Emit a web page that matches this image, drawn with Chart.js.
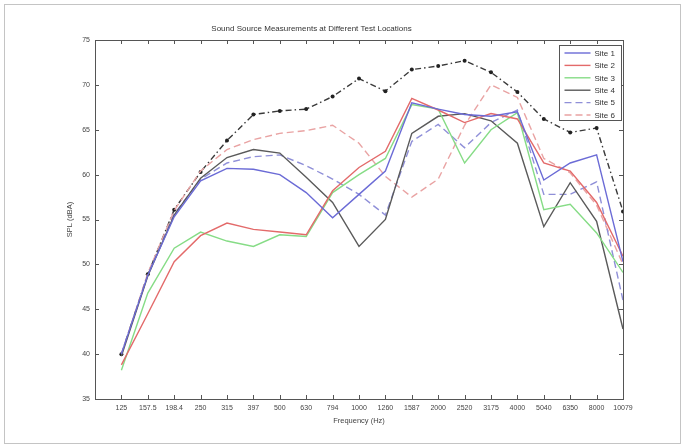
<!DOCTYPE html>
<html lang="en">

<head>
    <meta charset="UTF-8">
    <title>Sound Source Measurements</title>
    <script src="https://cdn.jsdelivr.net/npm/chart.js"></script>
    <style>
        body { margin: 0; background: #ffffff; }
        #grafico { display: block; }
    </style>
</head>

<body>
    <canvas id="grafico" width="685" height="448"></canvas>
</body>
</html>
<script>
  // frequency bands (Hz)
  var freqLabels = ['125', '157.5', '198.4', '250', '315', '397', '500', '630', '794', '1000',
                    '1260', '1587', '2000', '2520', '3175', '4000', '5040', '6350', '8000', '10079']

  var yTicks = [35, 40, 45, 50, 55, 60, 65, 70, 75]

  // SPL (dBA) per site
  var site1 = [40.0, 48.8, 55.3, 59.3, 60.7, 60.6, 60.0, 58.0, 55.2, 57.8, 60.4, 68.0, 67.3, 66.7, 66.5, 67.0, 59.4, 61.3, 62.2, 50.3]
  var site2 = [38.8, 44.5, 50.3, 53.2, 54.6, 53.9, 53.6, 53.3, 58.2, 60.8, 62.6, 68.5, 67.2, 65.8, 66.8, 66.2, 61.3, 60.4, 56.9, 50.9]
  var site3 = [38.2, 46.8, 51.8, 53.6, 52.6, 52.0, 53.3, 53.1, 58.0, 60.0, 61.8, 67.8, 67.3, 61.3, 65.0, 66.9, 56.1, 56.7, 53.5, 49.1]
  var site4 = [39.8, 48.7, 55.5, 59.6, 61.9, 62.8, 62.4, 59.7, 56.9, 52.0, 55.0, 64.6, 66.5, 66.8, 66.0, 63.5, 54.2, 59.1, 54.8, 42.8]
  var site5 = [40.0, 48.8, 55.6, 59.5, 61.3, 62.0, 62.2, 61.0, 59.5, 57.8, 55.5, 63.7, 65.6, 63.0, 65.8, 67.2, 57.8, 57.8, 59.2, 46.0]
  var site6 = [40.0, 49.0, 56.0, 60.4, 62.8, 63.9, 64.6, 64.9, 65.5, 63.5, 59.8, 57.5, 59.5, 65.5, 70.0, 68.6, 61.8, 60.2, 56.6, 50.0]
  // upper curve with markers (not in the legend)
  var maxLevel = [40.0, 48.9, 56.1, 60.3, 63.8, 66.7, 67.1, 67.3, 68.7, 70.7, 69.3, 71.7, 72.1, 72.7, 71.4, 69.2, 66.2, 64.7, 65.2, 55.9]

  function pontos(lista) {
    var saida = []
    for (var i = 0; i < lista.length; i += 1) {
      saida.push({ x: i + 1, y: lista[i] })
    }
    return saida
  }

  function serie(label, lista, cor, dash, legenda) {
    return {
      label: label,
      data: pontos(lista),
      borderColor: cor,
      backgroundColor: cor,
      borderWidth: 1.4,
      borderDash: dash,
      pointRadius: 0,
      tension: 0,
      showInLegend: legenda
    }
  }

  var datasets = [
    serie('Site 1', site1, '#6b6bd6', [], true),
    serie('Site 2', site2, '#e36a6a', [], true),
    serie('Site 3', site3, '#86dc86', [], true),
    serie('Site 4', site4, '#5a5a5a', [], true),
    serie('Site 5', site5, '#8f8fd8', [7, 4], true),
    serie('Site 6', site6, '#e9a3a3', [7, 4], true)
  ]

  var linhaMax = serie('Max', maxLevel, '#3a3a3a', [6, 3, 1.5, 3], false)
  linhaMax.pointRadius = 2
  linhaMax.pointBackgroundColor = '#222222'
  linhaMax.pointBorderWidth = 0
  datasets.push(linhaMax)

  // box, inward ticks and outer frame like the original figure
  var moldura = {
    id: 'moldura',
    beforeDraw: function (chart) {
      var ctx = chart.ctx
      ctx.save()
      ctx.fillStyle = '#ffffff'
      ctx.fillRect(0, 0, chart.width, chart.height)
      ctx.strokeStyle = '#c4c4c4'
      ctx.lineWidth = 1
      ctx.strokeRect(4.5, 4.5, chart.width - 9, chart.height - 9)
      ctx.restore()
    },
    afterDatasetsDraw: function (chart) {
      var ctx = chart.ctx
      var area = chart.chartArea
      var sx = chart.scales.x
      var sy = chart.scales.y
      ctx.save()
      ctx.strokeStyle = '#555555'
      ctx.lineWidth = 1
      ctx.strokeRect(Math.round(area.left) + 0.5, Math.round(area.top) + 0.5,
                     Math.round(area.right - area.left), Math.round(area.bottom - area.top))
      ctx.beginPath()
      for (var i = 1; i <= freqLabels.length; i += 1) {
        var px = Math.round(sx.getPixelForValue(i)) + 0.5
        ctx.moveTo(px, area.bottom)
        ctx.lineTo(px, area.bottom - 4)
        ctx.moveTo(px, area.top)
        ctx.lineTo(px, area.top + 4)
      }
      for (var j = 0; j < yTicks.length; j += 1) {
        var py = Math.round(sy.getPixelForValue(yTicks[j])) + 0.5
        ctx.moveTo(area.left, py)
        ctx.lineTo(area.left + 4, py)
        ctx.moveTo(area.right, py)
        ctx.lineTo(area.right - 4, py)
      }
      ctx.stroke()

      // legend box in the top right corner
      var itens = chart.data.datasets.filter(function (d) { return d.showInLegend })
      var caixaL = Math.round(area.right) - 63.5
      var caixaT = Math.round(area.top) + 5.5
      var caixaW = 62
      var caixaH = 75
      ctx.fillStyle = '#ffffff'
      ctx.fillRect(caixaL, caixaT, caixaW, caixaH)
      ctx.strokeStyle = '#555555'
      ctx.strokeRect(caixaL, caixaT, caixaW, caixaH)
      ctx.font = '8px "Liberation Sans", Arial, sans-serif'
      ctx.textBaseline = 'middle'
      ctx.textAlign = 'left'
      for (var k = 0; k < itens.length; k += 1) {
        var ly = caixaT + 7.5 + k * 12.4
        ctx.beginPath()
        ctx.setLineDash(itens[k].borderDash)
        ctx.strokeStyle = itens[k].borderColor
        ctx.lineWidth = 1.4
        ctx.moveTo(caixaL + 5, ly)
        ctx.lineTo(caixaL + 31, ly)
        ctx.stroke()
        ctx.setLineDash([])
        ctx.fillStyle = '#333333'
        ctx.fillText(itens[k].label, caixaL + 35, ly + 0.5)
      }
      ctx.restore()
    }
  }

  var tela = document.getElementById('grafico')

  new Chart(tela, {
    type: 'line',
    data: { datasets: datasets },
    plugins: [moldura],
    options: {
      responsive: false,
      animation: false,
      layout: { padding: { left: 0, right: 62, top: 0, bottom: 0 } },
      font: { family: '"Liberation Sans", Arial, sans-serif' },
      scales: {
        x: {
          type: 'linear',
          min: 0,
          max: 20,
          grid: { display: false, drawTicks: false },
          border: { display: false },
          afterFit: function (scale) { scale.height = 49 },
          afterBuildTicks: function (scale) {
            scale.ticks = scale.ticks.filter(function (t) { return t.value >= 1 && t.value <= 20 })
          },
          ticks: {
            stepSize: 1,
            autoSkip: false,
            maxRotation: 0,
            padding: 5,
            color: '#444444',
            font: { size: 7 },
            callback: function (valor) { return freqLabels[valor - 1] || '' }
          },
          title: {
            display: true,
            text: 'Frequency (Hz)',
            color: '#444444',
            font: { size: 7.5 },
            padding: { top: 0, bottom: 23 }
          }
        },
        y: {
          min: 35,
          max: 75,
          grid: { display: false, drawTicks: false },
          border: { display: false },
          afterFit: function (scale) { scale.width = 95 },
          ticks: {
            stepSize: 5,
            padding: 5,
            color: '#444444',
            font: { size: 7 }
          },
          title: {
            display: true,
            text: 'SPL (dBA)',
            color: '#444444',
            font: { size: 7.5 },
            padding: { top: 65, bottom: 0 }
          }
        }
      },
      plugins: {
        legend: { display: false },
        tooltip: { enabled: false },
        title: {
          display: true,
          text: 'Sound Source Measurements at Different Test Locations',
          color: '#333333',
          font: { size: 8, weight: 'normal' },
          padding: { top: 24, bottom: 6.4 }
        }
      }
    }
  });
</script>
